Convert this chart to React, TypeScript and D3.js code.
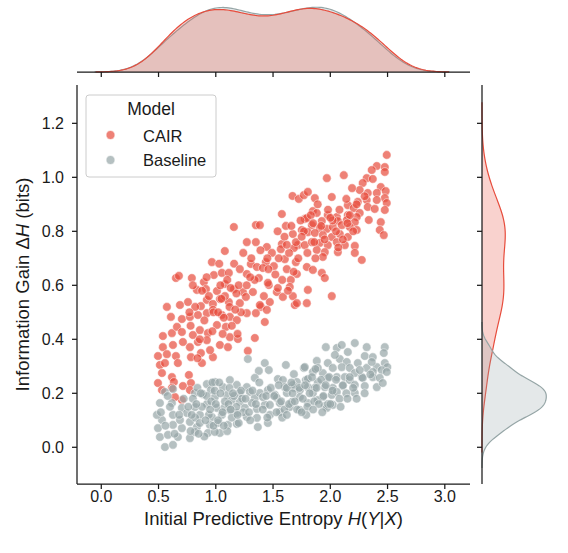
import React from "react";
import * as d3 from "d3";

// values: [entropy H(Y|X), gain ΔH]
const cairPoints: [number, number][] = [
  [1.67, 0.931], [1.725, 0.92], [1.769, 0.934], [1.577, 0.864], [1.158, 0.816], [1.35, 0.823], [1.385, 0.823], [1.612, 0.82], [1.673, 0.79], [1.751, 0.805],
  [1.777, 0.846], [1.271, 0.76], [1.35, 0.76], [1.446, 0.742], [1.079, 0.727], [1.577, 0.753], [1.716, 0.749], [1.682, 0.738], [1.777, 0.749], [1.568, 0.734],
  [0.966, 0.686], [1.306, 0.679], [1.359, 0.668], [1.437, 0.686], [1.507, 0.671], [1.603, 0.697], [1.699, 0.686], [0.652, 0.627], [0.678, 0.635], [0.791, 0.627],
  [0.896, 0.612], [0.983, 0.638], [1.053, 0.646], [1.114, 0.646], [1.271, 0.642], [1.376, 0.627], [1.655, 0.62], [1.708, 0.642], [1.079, 0.605], [1.158, 0.586],
  [1.237, 0.575], [1.324, 0.575], [1.463, 0.601], [1.533, 0.575], [1.646, 0.594], [0.835, 0.583], [0.914, 0.586], [1.01, 0.579], [0.757, 0.538], [0.922, 0.546],
  [1.036, 0.549], [1.114, 0.538], [1.263, 0.557], [1.586, 0.557], [1.673, 0.56], [0.573, 0.52], [0.687, 0.527], [0.87, 0.523], [0.975, 0.531], [1.21, 0.534],
  [1.394, 0.52], [1.472, 0.538], [1.69, 0.527], [1.795, 0.534], [0.608, 0.483], [0.704, 0.475], [0.774, 0.483], [0.844, 0.49], [0.922, 0.497], [0.975, 0.509],
  [1.053, 0.49], [1.123, 0.483], [1.184, 0.471], [1.271, 0.497], [1.35, 0.497], [1.428, 0.464], [0.538, 0.412], [0.617, 0.423], [0.661, 0.446], [0.704, 0.427],
  [0.8, 0.416], [0.861, 0.434], [0.931, 0.423], [1.01, 0.453], [1.088, 0.446], [1.123, 0.408], [1.193, 0.401], [1.341, 0.405], [0.538, 0.371], [0.626, 0.379],
  [0.713, 0.39], [0.774, 0.371], [0.844, 0.39], [0.922, 0.397], [1.036, 0.379], [1.106, 0.371], [1.28, 0.357], [0.495, 0.338], [0.573, 0.345], [0.652, 0.338],
  [0.669, 0.312], [0.783, 0.334], [0.87, 0.349], [0.879, 0.312], [0.975, 0.334], [0.512, 0.305], [0.556, 0.312], [0.53, 0.275], [0.617, 0.26], [0.765, 0.268],
  [0.495, 0.238], [0.634, 0.242], [0.783, 0.238], [0.713, 0.227], [0.53, 0.212], [0.617, 0.22], [0.774, 0.212], [0.704, 0.175], [0.643, 0.186],
  [2.493, 1.083], [2.406, 1.042], [2.476, 1.038], [2.362, 1.027], [2.476, 1.02], [2.318, 0.997], [2.371, 0.994], [2.283, 0.979], [1.97, 0.997], [2.118, 1.008],
  [2.441, 0.964], [2.484, 0.949], [2.257, 0.953], [2.327, 0.942], [2.406, 0.942], [1.804, 0.946], [1.865, 0.923], [2.013, 0.927], [2.476, 0.923], [2.493, 0.905],
  [2.406, 0.916], [2.318, 0.916], [2.327, 0.89], [2.24, 0.909], [2.153, 0.897], [2.205, 0.886], [2.476, 0.879], [2.388, 0.883], [1.848, 0.875], [1.882, 0.868],
  [2.257, 0.868], [2.336, 0.842], [2.441, 0.834], [2.432, 0.805], [2.467, 0.786], [1.978, 0.86], [2.057, 0.853], [2.153, 0.86], [2.231, 0.853], [1.795, 0.849],
  [1.926, 0.838], [2.066, 0.838], [2.144, 0.842], [2.214, 0.834], [1.839, 0.823], [1.908, 0.812], [1.97, 0.809], [2.022, 0.816], [2.1, 0.823], [2.17, 0.816],
  [2.231, 0.805], [1.804, 0.797], [1.865, 0.794], [1.935, 0.786], [2.013, 0.779], [2.083, 0.79], [2.153, 0.779], [1.839, 0.76], [1.908, 0.757], [1.978, 0.749],
  [2.057, 0.76], [2.127, 0.749], [2.214, 0.746], [1.882, 0.731], [1.952, 0.723], [2.066, 0.723], [2.214, 0.72], [1.935, 0.705], [2.275, 0.694], [1.795, 0.668],
  [1.848, 0.657], [1.926, 0.646], [1.952, 0.627], [1.804, 0.583], [2.013, 0.56], [1.411, 0.664], [1.455, 0.609], [1.542, 0.59], [1.708, 0.534], [1.385, 0.527],
  [1.446, 0.509],
  // points hidden in the dense parts of the cloud
  [0.78, 0.45], [0.82, 0.52], [0.86, 0.4], [0.9, 0.47], [0.94, 0.56], [0.97, 0.43], [0.8, 0.6], [0.88, 0.58], [0.95, 0.36], [0.84, 0.33],
  [0.92, 0.63], [0.98, 0.5], [0.77, 0.5],
  [1.02, 0.5], [1.04, 0.6], [1.06, 0.42], [1.08, 0.56], [1.1, 0.62], [1.12, 0.52], [1.14, 0.45], [1.16, 0.68], [1.18, 0.57], [1.2, 0.6],
  [1.22, 0.5], [1.24, 0.72], [1.03, 0.68], [1.07, 0.48], [1.13, 0.59], [1.19, 0.42], [1.21, 0.66], [1.05, 0.55], [1.17, 0.51],
  [1.27, 0.6], [1.31, 0.7], [1.34, 0.62], [1.39, 0.73], [1.42, 0.56], [1.46, 0.66], [1.49, 0.72],
  [1.52, 0.64], [1.55, 0.7], [1.58, 0.62], [1.6, 0.78], [1.62, 0.66], [1.64, 0.72], [1.66, 0.82], [1.68, 0.65], [1.7, 0.76], [1.72, 0.7],
  [1.74, 0.84], [1.54, 0.8], [1.63, 0.58],
  [1.77, 0.8], [1.8, 0.72], [1.83, 0.86], [1.86, 0.76], [1.89, 0.9], [1.92, 0.82], [1.95, 0.77], [1.98, 0.88], [1.87, 0.7],
  [2.02, 0.84], [2.05, 0.8], [2.08, 0.88], [2.11, 0.77], [2.14, 0.92], [2.17, 0.86], [2.2, 0.8], [2.23, 0.9], [2.07, 0.74], [2.19, 0.96],
  [1.3, 0.63], [1.45, 0.7], [1.62, 0.75], [1.75, 0.78], [1.85, 0.83], [2.0, 0.85], [2.15, 0.83], [2.3, 0.93],
];

const baselinePoints: [number, number][] = [
  [1.28, 0.327], [1.428, 0.312], [1.376, 0.283], [1.463, 0.286], [1.612, 0.305], [1.769, 0.294], [1.341, 0.257], [1.542, 0.253], [1.586, 0.249], [1.682, 0.271],
  [1.708, 0.242], [1.786, 0.249], [0.922, 0.234], [0.992, 0.242], [1.123, 0.249], [0.957, 0.212], [1.062, 0.223], [1.184, 0.231], [1.271, 0.223], [1.21, 0.201],
  [1.298, 0.205], [0.626, 0.216], [0.556, 0.205], [0.818, 0.201], [0.887, 0.197], [0.992, 0.186], [1.097, 0.194], [1.14, 0.175], [1.21, 0.168], [1.341, 0.183],
  [1.385, 0.201], [1.455, 0.212], [1.516, 0.194], [1.62, 0.201], [1.682, 0.22], [1.734, 0.212], [0.512, 0.164], [0.617, 0.164], [0.704, 0.146], [0.626, 0.12],
  [0.748, 0.127], [0.818, 0.149], [0.861, 0.12], [0.922, 0.16], [1.01, 0.146], [1.079, 0.149], [0.966, 0.112], [1.053, 0.12], [1.184, 0.127], [1.271, 0.112],
  [1.359, 0.142], [1.428, 0.157], [1.559, 0.131], [1.646, 0.149], [1.734, 0.138], [0.53, 0.101], [0.495, 0.071], [0.626, 0.083], [0.704, 0.071], [0.774, 0.094],
  [0.835, 0.075], [0.949, 0.083], [1.018, 0.09], [1.106, 0.083], [1.184, 0.086], [1.359, 0.109], [1.472, 0.12], [0.512, 0.038], [0.582, 0.046], [0.669, 0.038],
  [0.774, 0.034], [0.931, 0.053], [1.036, 0.053], [1.367, 0.075], [1.455, 0.09], [0.556, 0.001], [0.626, 0.009],
  [1.961, 0.371], [2.057, 0.368], [2.1, 0.379], [2.214, 0.386], [2.318, 0.371], [2.476, 0.371], [2.301, 0.338], [2.371, 0.334], [2.467, 0.349], [1.882, 0.32],
  [1.978, 0.312], [2.083, 0.327], [2.144, 0.316], [2.24, 0.312], [2.318, 0.294], [2.406, 0.297], [2.476, 0.312], [2.498, 0.297], [1.777, 0.297], [1.848, 0.279],
  [1.935, 0.275], [2.022, 0.294], [2.1, 0.297], [2.17, 0.294], [2.214, 0.275], [2.275, 0.26], [2.371, 0.279], [2.449, 0.286], [2.493, 0.279], [1.804, 0.253],
  [1.891, 0.242], [1.978, 0.257], [2.057, 0.26], [2.127, 0.26], [2.17, 0.249], [2.283, 0.257], [2.371, 0.26], [2.432, 0.257], [1.804, 0.223], [1.865, 0.22],
  [1.952, 0.223], [2.022, 0.22], [2.109, 0.227], [2.214, 0.231], [2.301, 0.227], [2.406, 0.223], [2.458, 0.238], [1.848, 0.201], [1.935, 0.186], [2.013, 0.194],
  [2.057, 0.205], [2.214, 0.201], [1.804, 0.164], [1.952, 0.153], [2.022, 0.157], [1.97, 0.146], [1.533, 0.183], [1.559, 0.164], [1.664, 0.168], [1.673, 0.231],
  [1.411, 0.186], [1.891, 0.175],
  [0.687, 0.101], [0.818, 0.057], [1.254, 0.146], [1.315, 0.164], [1.603, 0.223], [1.891, 0.294], [2.04, 0.342], [2.153, 0.353], [2.362, 0.316], [2.257, 0.286],
  [1.734, 0.186], [1.472, 0.157], [0.992, 0.057], [0.486, 0.12], [1.123, 0.138],
  // points hidden in the dense parts of the cloud
  [0.52, 0.13], [0.56, 0.08], [0.6, 0.15], [0.64, 0.05], [0.68, 0.12], [0.72, 0.18], [0.58, 0.19],
  [0.76, 0.15], [0.78, 0.06], [0.8, 0.18], [0.82, 0.11], [0.84, 0.22], [0.86, 0.09], [0.88, 0.15], [0.9, 0.04], [0.92, 0.19], [0.94, 0.12],
  [0.96, 0.17], [0.98, 0.08], [0.79, 0.12], [0.83, 0.16], [0.87, 0.2], [0.91, 0.1], [0.95, 0.14], [0.99, 0.21], [0.85, 0.05], [0.97, 0.24],
  [1.0, 0.16], [1.02, 0.1], [1.04, 0.2], [1.06, 0.13], [1.08, 0.17], [1.1, 0.06], [1.12, 0.22], [1.14, 0.11], [1.16, 0.19], [1.18, 0.15],
  [1.2, 0.09], [1.22, 0.21], [1.24, 0.13], [1.03, 0.24], [1.07, 0.08], [1.11, 0.16], [1.15, 0.2], [1.19, 0.12], [1.23, 0.18], [1.13, 0.14],
  [1.26, 0.18], [1.29, 0.13], [1.32, 0.21], [1.35, 0.16], [1.38, 0.24], [1.41, 0.14], [1.44, 0.19], [1.48, 0.22],
  [1.51, 0.19], [1.53, 0.13], [1.55, 0.23], [1.57, 0.17], [1.6, 0.14], [1.62, 0.22], [1.64, 0.16], [1.66, 0.24], [1.69, 0.17], [1.71, 0.14],
  [1.73, 0.22], [1.58, 0.11], [1.67, 0.2],
  [1.76, 0.18], [1.78, 0.23], [1.8, 0.15], [1.82, 0.2], [1.84, 0.26], [1.86, 0.17], [1.88, 0.22], [1.9, 0.16], [1.92, 0.25], [1.94, 0.19],
  [1.96, 0.23], [1.98, 0.16], [1.79, 0.12], [1.87, 0.29], [1.93, 0.13], [1.99, 0.26],
  [2.02, 0.21], [2.05, 0.25], [2.08, 0.18], [2.11, 0.23], [2.14, 0.2], [2.17, 0.26], [2.2, 0.22], [2.23, 0.18], [2.09, 0.15],
  [2.35, 0.27],
  [1.3, 0.1], [1.45, 0.11], [1.62, 0.12], [1.75, 0.13], [1.85, 0.14], [2.0, 0.16], [2.15, 0.18], [2.3, 0.2],
];

const xTicks = [0, 0.5, 1, 1.5, 2, 2.5, 3];
const yTicks = [0, 0.2, 0.4, 0.6, 0.8, 1.0, 1.2];

const RED = "#e74c3c";
const GREY = "#95a5a6";
const FONT = "'Liberation Sans', Arial, sans-serif";

// gaussian kde, scott bandwidth, cut=3, like seaborn
function kde(values: number[]): [number, number][] {
  const n = values.length;
  const sd = d3.deviation(values) as number;
  const bw = sd * Math.pow(n, -0.2);
  const lo = (d3.min(values) as number) - 3 * bw;
  const hi = (d3.max(values) as number) + 3 * bw;
  const norm = 1 / (n * bw * Math.sqrt(2 * Math.PI));
  return d3.range(200).map(i => {
    const g = lo + ((hi - lo) * i) / 199;
    let s = 0;
    for (const v of values) s += Math.exp(-0.5 * ((g - v) / bw) ** 2);
    return [g, s * norm];
  });
}

export default function App() {
  const left = 77, right = 470, top = 85, bottom = 484;
  const x = d3.scaleLinear().domain([-0.212, 3.22]).range([left, right]);
  const y = d3.scaleLinear().domain([-0.136, 1.342]).range([bottom, top]);

  const cairX = kde(cairPoints.map(d => d[0]));
  const baseX = kde(baselinePoints.map(d => d[0]));
  const cairY = kde(cairPoints.map(d => d[1]));
  const baseY = kde(baselinePoints.map(d => d[1]));

  const topMax = d3.max([...cairX, ...baseX], d => d[1]) as number;
  const rightMax = d3.max([...cairY, ...baseY], d => d[1]) as number;
  const topD = d3.scaleLinear().domain([0, topMax * 1.05]).range([72, 4]);
  const rightD = d3.scaleLinear().domain([0, rightMax * 1.05]).range([482, 549.5]);

  const topArea = d3.area<[number, number]>().x(d => x(d[0])).y0(topD(0)).y1(d => topD(d[1]));
  const topLine = d3.line<[number, number]>().x(d => x(d[0])).y(d => topD(d[1]));
  const rightArea = d3.area<[number, number]>().y(d => y(d[0])).x0(rightD(0)).x1(d => rightD(d[1]));
  const rightLine = d3.line<[number, number]>().y(d => y(d[0])).x(d => rightD(d[1]));

  const ink = "#1a1a1a";

  return (
    <svg width={568} height={553} style={{ position: "absolute", left: 0, top: 0, fontFamily: FONT }}>
      <rect width={568} height={553} fill="#fff" />

      {/* top marginal */}
      <path d={topArea(baseX) || ""} fill={GREY} fillOpacity={0.25} />
      <path d={topLine(baseX) || ""} fill="none" stroke={GREY} strokeWidth={1.2} />
      <path d={topArea(cairX) || ""} fill={RED} fillOpacity={0.25} />
      <path d={topLine(cairX) || ""} fill="none" stroke={RED} strokeWidth={1.2} />
      <line x1={left} x2={right} y1={72} y2={72} stroke={ink} strokeWidth={1.25} />
      {xTicks.map(t => (
        <line key={"tt" + t} x1={x(t)} x2={x(t)} y1={72} y2={77} stroke={ink} strokeWidth={1.25} />
      ))}

      {/* right marginal */}
      <path d={rightArea(cairY) || ""} fill={RED} fillOpacity={0.25} />
      <path d={rightLine(cairY) || ""} fill="none" stroke={RED} strokeWidth={1.2} />
      <path d={rightArea(baseY) || ""} fill={GREY} fillOpacity={0.25} />
      <path d={rightLine(baseY) || ""} fill="none" stroke={GREY} strokeWidth={1.2} />
      <line x1={482} x2={482} y1={top} y2={bottom} stroke={ink} strokeWidth={1.25} />
      {yTicks.map(t => (
        <line key={"rt" + t} x1={477} x2={482} y1={y(t)} y2={y(t)} stroke={ink} strokeWidth={1.25} />
      ))}

      {/* scatter */}
      <g>
        {cairPoints.map((d, i) => (
          <circle key={"c" + i} cx={x(d[0])} cy={y(d[1])} r={4.3} fill={RED} fillOpacity={0.7} stroke="#fff" strokeOpacity={0.7} strokeWidth={0.7} />
        ))}
        {baselinePoints.map((d, i) => (
          <circle key={"b" + i} cx={x(d[0])} cy={y(d[1])} r={4.3} fill={GREY} fillOpacity={0.7} stroke="#fff" strokeOpacity={0.7} strokeWidth={0.7} />
        ))}
      </g>

      {/* main axes */}
      <line x1={left} x2={left} y1={top} y2={bottom} stroke={ink} strokeWidth={1.25} />
      <line x1={left} x2={right} y1={bottom} y2={bottom} stroke={ink} strokeWidth={1.25} />
      {xTicks.map(t => (
        <g key={"x" + t}>
          <line x1={x(t)} x2={x(t)} y1={bottom} y2={bottom + 5} stroke={ink} strokeWidth={1.25} />
          <text x={x(t)} y={502} textAnchor="middle" fontSize={16} fill={ink}>{t.toFixed(1)}</text>
        </g>
      ))}
      {yTicks.map(t => (
        <g key={"y" + t}>
          <line x1={left - 5} x2={left} y1={y(t)} y2={y(t)} stroke={ink} strokeWidth={1.25} />
          <text x={64} y={y(t) + 5.8} textAnchor="end" fontSize={16} fill={ink}>{t.toFixed(1)}</text>
        </g>
      ))}

      <text x={(left + right) / 2} y={525} textAnchor="middle" fontSize={18.5} fill={ink}>
        Initial Predictive Entropy <tspan fontStyle="italic">H</tspan>(<tspan fontStyle="italic">Y</tspan>|<tspan fontStyle="italic">X</tspan>)
      </text>
      <text transform={`translate(29,${(top + bottom) / 2}) rotate(-90)`} textAnchor="middle" fontSize={18.5} fill={ink}>
        Information Gain Δ<tspan fontStyle="italic">H</tspan> (bits)
      </text>

      {/* legend */}
      <rect x={86} y={95} width={130} height={82} rx={3} fill="#fff" fillOpacity={0.8} stroke="#cccccc" strokeWidth={1} />
      <text x={151} y={115} textAnchor="middle" fontSize={17.5} fill={ink}>Model</text>
      <circle cx={110.5} cy={135} r={4.5} fill={RED} fillOpacity={0.7} stroke="#fff" strokeWidth={0.7} />
      <text x={143} y={141.5} fontSize={16.5} fill={ink}>CAIR</text>
      <circle cx={110.5} cy={160} r={4.5} fill={GREY} fillOpacity={0.7} stroke="#fff" strokeWidth={0.7} />
      <text x={143} y={166} fontSize={16.5} fill={ink}>Baseline</text>
    </svg>
  );
}
